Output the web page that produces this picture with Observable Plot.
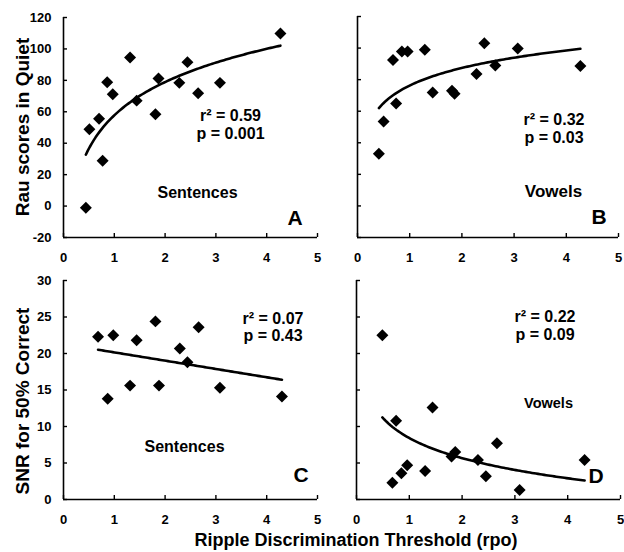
<!DOCTYPE html>
<html>
<head>
<meta charset="utf-8">
<script src="https://cdn.jsdelivr.net/npm/d3@7"></script>
<script src="https://cdn.jsdelivr.net/npm/@observablehq/plot@0.6"></script>
<style>
  body { margin: 0; background: #fff; }
  #chart { position: relative; width: 624px; height: 552px; background: #fff;
           font-family: Arial, "Liberation Sans", sans-serif; color: #000; }
  .panel { position: absolute; }
  .ytitle { position: absolute; font-weight: bold; font-size: 19px; white-space: nowrap;
            transform: translate(-50%, -50%) rotate(-90deg); line-height: 1; }
  .xtitle { position: absolute; font-weight: bold; font-size: 18px; white-space: nowrap;
            transform: translate(-50%, -50%); line-height: 1; }
</style>
</head>
<body>
<div id="chart"></div>
<script>
// ---- data ----
const xTicks = [0, 1, 2, 3, 4, 5];
const yTicksQuiet = [-20, 0, 20, 40, 60, 80, 100, 120];
const yTicksSnr = [0, 5, 10, 15, 20, 25, 30];

// A: Sentences, Rau scores in quiet
const sentQuietX = [0.44, 0.51, 0.70, 0.77, 0.86, 0.97, 1.31, 1.44, 1.81, 1.87, 2.28, 2.44, 2.65, 3.08, 4.27];
const sentQuietY = [-1, 48.9, 55.6, 28.9, 78.8, 71.1, 94.6, 67.1, 58.5, 81.2, 78.4, 91.6, 71.8, 78.4, 109.8];
// B: Vowels, Rau scores in quiet
const vowQuietX = [0.41, 0.50, 0.68, 0.74, 0.85, 0.96, 1.29, 1.44, 1.81, 1.86, 2.28, 2.43, 2.64, 3.07, 4.27];
const vowQuietY = [33.1, 53.5, 92.4, 64.9, 97.8, 97.8, 98.9, 71.9, 72.9, 71.1, 83.5, 103.1, 89.0, 99.7, 88.6];
// C: Sentences, SNR for 50% correct
const sentSnrX = [0.68, 0.87, 0.98, 1.31, 1.44, 1.81, 1.88, 2.29, 2.44, 2.66, 3.08, 4.30];
const sentSnrY = [22.3, 13.8, 22.5, 15.6, 21.8, 24.4, 15.6, 20.7, 18.8, 23.6, 15.3, 14.1];
// D: Vowels, SNR for 50% correct
const vowSnrX = [0.49, 0.68, 0.75, 0.85, 0.96, 1.30, 1.44, 1.80, 1.87, 2.30, 2.45, 2.66, 3.09, 4.32];
const vowSnrY = [22.5, 2.3, 10.8, 3.6, 4.7, 3.9, 12.6, 5.9, 6.5, 5.4, 3.2, 7.7, 1.3, 5.4];

const statsText = [["r² = 0.59", "p = 0.001"], ["r² = 0.32", "p = 0.03"], ["r² = 0.07", "p = 0.43"], ["r² = 0.22", "p = 0.09"]];
const taskLabels = ["Sentences", "Vowels", "Sentences", "Vowels"];
const panelLetters = ["A", "B", "C", "D"];
const fitKinds = ["log", "log", "linear", "log"];

// least-squares trend line fitted to the data (log or linear in x)
function fitCurve(xs, ys, kind) {
  const tf = kind === "log" ? Math.log : (v) => v;
  const tx = xs.map(tf);
  const mx = d3.mean(tx), my = d3.mean(ys);
  const b = d3.sum(tx, (t, i) => (t - mx) * (ys[i] - my)) / d3.sum(tx, (t) => (t - mx) ** 2);
  const a = my - b * mx;
  const [lo, hi] = d3.extent(xs);
  return d3.range(0, 101).map((k) => {
    const x = lo + (hi - lo) * k / 100;
    return { x, y: a + b * tf(x) };
  });
}

const font = 'Arial, "Liberation Sans", sans-serif';

function panel(o) {
  const pts = o.xs.map((x, i) => ({ x, y: o.ys[i] }));
  const y0 = o.yDomain[0];
  const fit = fitCurve(o.xs, o.ys, o.kind);
  const txt = (s, dx, dy, size) => Plot.text([s], {
    text: (d) => d, frameAnchor: "top-left", dx, dy, textAnchor: "middle", lineAnchor: "middle",
    fontSize: size, fontWeight: "bold", fill: "black", fontFamily: font
  });
  return Plot.plot({
    width: o.width, height: o.height,
    marginLeft: o.ml, marginRight: o.mr, marginTop: o.mt, marginBottom: o.mb,
    style: { fontFamily: font, fontSize: "13px", fontWeight: "bold", color: "#000", background: "transparent", overflow: "visible" },
    x: { domain: [0, 5], ticks: xTicks, tickSize: 0, tickPadding: 15, label: null, tickFormat: (d) => String(d) },
    y: { domain: o.yDomain, ticks: o.yTicks, tickSize: 0, tickPadding: 12, label: null, axis: o.yLabels ? "left" : null, tickFormat: (d) => String(d) },
    marks: [
      Plot.ruleY([y0], { stroke: "black", strokeWidth: 1.6 }),
      Plot.ruleX([0], { stroke: "black", strokeWidth: 1.6 }),
      Plot.ruleX(xTicks, { x: (d) => d, y1: y0, y2: y0, insetBottom: 4, stroke: "black", strokeWidth: 1.4 }),
      Plot.ruleY(o.yTicks, { y: (d) => d, x1: 0, x2: 0, insetRight: -4, stroke: "black", strokeWidth: 1.4 }),
      Plot.line(fit, { x: "x", y: "y", stroke: "black", strokeWidth: 2.6 }),
      Plot.dot(pts, { x: "x", y: "y", symbol: "diamond2", r: 5.4, fill: "black", stroke: "none" }),
      txt(o.stats[0], o.st[0], o.st[1], 16),
      txt(o.stats[1], o.st[0], o.st[2], 16),
      txt(o.task, o.tk[0], o.tk[1], o.tkSize),
      txt(o.letter, o.lt[0], o.lt[1], 21)
    ]
  });
}

const chart = document.getElementById("chart");
function place(node, left, top) {
  node.classList.add("panel");
  node.style.left = left + "px";
  node.style.top = top + "px";
  chart.appendChild(node);
}

place(panel({ xs: sentQuietX, ys: sentQuietY, yDomain: [-20, 120], yTicks: yTicksQuiet, yLabels: true, kind: fitKinds[0],
  width: 330, height: 270, ml: 63, mr: 13, mt: 17, mb: 33,
  stats: statsText[0], st: [167, 98, 116], task: taskLabels[0], tk: [134, 175.5], tkSize: 16,
  letter: panelLetters[0], lt: [231.5, 200.5] }), 0, 0);

place(panel({ xs: vowQuietX, ys: vowQuietY, yDomain: [-20, 120], yTicks: yTicksQuiet, yLabels: false, kind: fitKinds[1],
  width: 324, height: 270, ml: 57, mr: 6, mt: 16, mb: 33,
  stats: statsText[1], st: [196.5, 103.5, 121], task: taskLabels[1], tk: [196, 175], tkSize: 17,
  letter: panelLetters[1], lt: [241.5, 200.5] }), 300, 0);

place(panel({ xs: sentSnrX, ys: sentSnrY, yDomain: [0, 30], yTicks: yTicksSnr, yLabels: true, kind: fitKinds[2],
  width: 330, height: 265, ml: 63, mr: 13, mt: 15, mb: 31,
  stats: statsText[2], st: [209.5, 38, 55], task: taskLabels[2], tk: [121, 166.5], tkSize: 16,
  letter: panelLetters[2], lt: [237.5, 195] }), 0, 265);

place(panel({ xs: vowSnrX, ys: vowSnrY, yDomain: [0, 30], yTicks: yTicksSnr, yLabels: false, kind: fitKinds[3],
  width: 324, height: 265, ml: 56, mr: 4, mt: 15, mb: 31,
  stats: statsText[3], st: [188.5, 36.5, 54], task: taskLabels[3], tk: [192, 122.5], tkSize: 14.5,
  letter: panelLetters[3], lt: [239.5, 196] }), 300, 265);

function title(cls, text, x, y) {
  const d = document.createElement("div");
  d.className = cls;
  d.textContent = text;
  d.style.left = x + "px";
  d.style.top = y + "px";
  chart.appendChild(d);
}
title("ytitle", "Rau scores in Quiet", 21.5, 127);
title("ytitle", "SNR for 50% Correct", 21.5, 401);
title("xtitle", "Ripple Discrimination Threshold (rpo)", 356, 540);
</script>
</body>
</html>
